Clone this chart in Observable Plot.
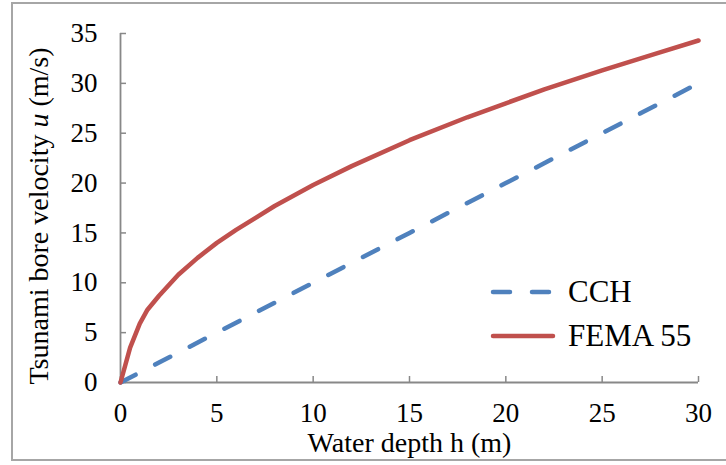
<!DOCTYPE html>
<html>
<head>
<meta charset="utf-8">
<script src="https://cdn.jsdelivr.net/npm/d3@7"></script>
<script src="https://cdn.jsdelivr.net/npm/@observablehq/plot@0.6"></script>
<style>
  html, body { margin: 0; padding: 0; background: #fff; overflow: hidden; }
  #wrap { position: relative; width: 726px; height: 465px; font-family: "Liberation Serif", "Times New Roman", serif; }
  #wrap svg text, #legend { font-family: "Liberation Serif", "Times New Roman", serif !important; }
  #border { position: absolute; left: 11px; top: 2px; width: 800px; height: 459px; border: 2px solid #a6a6a6; box-sizing: border-box; }
  #legend { position: absolute; left: 490px; top: 270px; font-size: 31px; color: #000; }
  .row { display: flex; align-items: center; height: 44px; }
  .row svg { margin-right: 12px; }
</style>
</head>
<body>
<div id="wrap">
  <div id="border"></div>
  <div id="chart"></div>
  <div id="legend"></div>
</div>
<script>
// Data
const xTicks = [0, 5, 10, 15, 20, 25, 30];
const yTicks = [0, 5, 10, 15, 20, 25, 30, 35];
const cchDepth = [0, 5, 10, 15, 20, 25, 30];
const cchVelocity = [0, 5, 10, 15, 20, 25, 30];
const femaDepth = [0, 0.5, 1, 1.4, 2, 3, 4, 5, 6, 8, 10, 12, 15, 18, 20, 22, 25, 28, 30];
const femaVelocity = [0, 3.5, 5.9, 7.3, 8.7, 10.8, 12.5, 14.0, 15.3, 17.7, 19.8, 21.7, 24.3, 26.6, 28.0, 29.4, 31.3, 33.1, 34.3];
const seriesNames = ["CCH", "FEMA 55"];
const xTitle = "Water depth h (m)";
const yTitleParts = ["Tsunami bore velocity ", "u", " (m/s)"];

const cch = cchDepth.map((h, i) => ({h, u: cchVelocity[i]}));
const fema = femaDepth.map((h, i) => ({h, u: femaVelocity[i]}));

const blue = "#4f81bd", red = "#c0504d", axisColor = "#888888";
const W = 726, H = 465, mt = 33, mr = 28, mb = 83, ml = 120;
const fsTick = 27, fsTitle = 28;

const plot = Plot.plot({
  width: W, height: H,
  marginTop: mt, marginRight: mr, marginBottom: mb, marginLeft: ml,
  style: {fontSize: fsTick + "px", color: "#000", background: "transparent", overflow: "visible"},
  x: {domain: [0, 30]},
  y: {domain: [0, 35]},
  marks: [
    Plot.tickX(xTicks, {x: d => d, stroke: axisColor, strokeWidth: 1.5, insetTop: (H - mt - mb) - 6}),
    Plot.tickY(yTicks, {y: d => d, stroke: axisColor, strokeWidth: 1.5, insetRight: (W - ml - mr) - 6}),
    Plot.ruleX([0], {stroke: axisColor, strokeWidth: 1.8}),
    Plot.ruleY([0], {stroke: axisColor, strokeWidth: 1.8}),
    Plot.axisX({ticks: xTicks, tickSize: 0, tickPadding: 20, fontSize: fsTick, label: null, tickFormat: d => String(d)}),
    Plot.axisY({ticks: yTicks, tickSize: 0, tickPadding: 23, fontSize: fsTick, label: null, tickFormat: d => String(d)}),
    Plot.line(cch, {x: "h", y: "u", stroke: blue, strokeWidth: 4.5, strokeDasharray: "17,22", strokeLinecap: "round"}),
    Plot.line(fema, {x: "h", y: "u", stroke: red, strokeWidth: 4.5, strokeLinejoin: "round"}),
    Plot.text([xTitle], {frameAnchor: "bottom", dy: 61, fontSize: fsTitle, lineAnchor: "middle", textAnchor: "middle", fill: "#000"}),
    Plot.text([yTitleParts.join("")], {frameAnchor: "left", rotate: -90, dx: -81, dy: 8, fontSize: fsTitle, lineAnchor: "middle", textAnchor: "middle", fill: "#000", className: "ytitle"})
  ]
});
document.getElementById("chart").appendChild(plot);

const yt = d3.select(plot).select(".ytitle text");
yt.text(null);
yTitleParts.forEach((p, i) => {
  const t = yt.append("tspan").text(p);
  if (i === 1) t.attr("font-style", "italic");
});

const legend = d3.select("#legend");
[[seriesNames[0], blue, "17,22"], [seriesNames[1], red, null]].forEach(([name, color, dash]) => {
  const row = legend.append("div").attr("class", "row");
  const s = row.append("svg").attr("width", 66).attr("height", 10);
  const l = s.append("line").attr("x1", 3).attr("x2", 63).attr("y1", 5).attr("y2", 5)
    .attr("stroke", color).attr("stroke-width", 4.5).attr("stroke-linecap", "round");
  if (dash) l.attr("stroke-dasharray", dash);
  row.append("span").text(name);
});
</script>
</body>
</html>
